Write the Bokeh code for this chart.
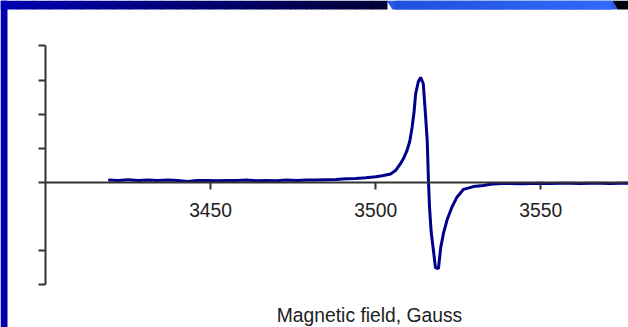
from bokeh.plotting import figure
from bokeh.models import Range1d, LinearAxis, FixedTicker, BoxAnnotation, PolyAnnotation, Label
from bokeh.embed import file_html
from bokeh.resources import INLINE

# ---- data ----
field = [3419, 3422, 3425, 3428, 3431, 3434, 3437, 3440, 3443, 3446, 3449, 3452, 3455,
         3458, 3461, 3464, 3467, 3470, 3473, 3476, 3479, 3482, 3485, 3488, 3491, 3494,
         3497, 3500, 3502, 3504.5, 3506, 3507.5, 3508.5, 3509.5, 3510.3, 3511.0, 3511.6,
         3512.1, 3512.9, 3513.6, 3514.4, 3515.0, 3515.6, 3516.0, 3516.3, 3516.8, 3517.5,
         3518.1, 3519.0, 3519.7, 3520.5, 3521.6, 3523.1, 3524.6, 3526.6, 3529.6, 3532.6,
         3534.8, 3538, 3541, 3544, 3547, 3550, 3553, 3556, 3559, 3562, 3565, 3568, 3571,
         3574, 3577]
signal = [0.07, 0.06, 0.08, 0.06, 0.07, 0.06, 0.07, 0.06, 0.03, 0.06, 0.06, 0.05, 0.06,
          0.06, 0.07, 0.05, 0.06, 0.05, 0.07, 0.06, 0.07, 0.07, 0.08, 0.09, 0.11, 0.12,
          0.14, 0.17, 0.20, 0.25, 0.35, 0.55, 0.72, 0.94, 1.2, 1.6, 2.05,
          2.6, 2.95, 3.08, 2.9, 2.1, 1.23, 0.0, -0.72, -1.45, -2.0,
          -2.5, -2.52, -1.9, -1.5, -1.1, -0.72, -0.43, -0.2, -0.12, -0.09,
          -0.05, -0.03, -0.03, -0.04, -0.03, -0.02, -0.03, -0.02, -0.02, -0.03, -0.02,
          -0.02, -0.03, -0.02, -0.02]
x_ticks = [3450, 3500, 3550, 3600]
y_ticks = [-3, -2, 0, 1, 2, 3, 4]
x_bounds = (3400, 3600)
y_bounds = (-3, 4)
x_title = "Magnetic field, Gauss"

W, H = 628, 327
px_per_gauss = 3.302
px_per_unit = 34.14
axis_left_px = 45
zero_py = 182

x0 = x_bounds[0] - axis_left_px / px_per_gauss
x1 = x_bounds[0] + (W - axis_left_px) / px_per_gauss
y_top = zero_py / px_per_unit
y_bot = -(H - zero_py) / px_per_unit

p = figure(width=W, height=H, output_backend="svg", toolbar_location=None,
           x_range=Range1d(x0, x1), y_range=Range1d(y_bot, y_top),
           x_axis_type=None, y_axis_type=None, min_border=0,
           background_fill_color="white", border_fill_color="white",
           outline_line_color=None)
p.styles = {"position": "absolute", "left": "0px", "top": "0px"}
p.grid.visible = False

FONT = "Liberation Sans"
FS = "19.3px"

xa = LinearAxis(fixed_location=0, bounds=x_bounds, ticker=FixedTicker(ticks=x_ticks),
                axis_line_color="#333333", axis_line_width=2,
                major_tick_line_color="#333333", major_tick_line_width=2,
                major_tick_in=0, major_tick_out=7, minor_tick_line_color=None,
                major_label_text_font=FONT, major_label_text_font_size=FS,
                major_label_text_color="#222222", major_label_standoff=13)
p.add_layout(xa, "below")

ya = LinearAxis(fixed_location=x_bounds[0], bounds=y_bounds, ticker=FixedTicker(ticks=y_ticks),
                axis_line_color="#333333", axis_line_width=2,
                major_tick_line_color="#333333", major_tick_line_width=2,
                major_tick_in=0, major_tick_out=7, minor_tick_line_color=None,
                major_label_text_color=None)
p.add_layout(ya, "left")

p.line(field, signal, line_color="#00008a", line_width=3)

p.add_layout(Label(x=369, y=H - 304, x_units="screen", y_units="screen", text=x_title,
                   text_align="center", text_baseline="top",
                   text_font=FONT, text_font_size=FS, text_color="#222222"))

# ---- slide frame (blue bands); screen y is measured from the bottom ----
band_h = 9
left_w = 7
p.add_layout(BoxAnnotation(left=0, right=left_w, left_units="screen", right_units="screen",
                           fill_color="#0000b0", fill_alpha=1, line_color=None, level="overlay"))
n = 24
tab_start, tab_end = 386, 612
for i in range(n):
    a = i * tab_start / n
    b = (i + 1) * tab_start / n + 1
    t = i / (n - 1)
    bl = int(176 - t * 120)
    p.add_layout(BoxAnnotation(left=a, right=b, top=H, bottom=H - band_h,
                               left_units="screen", right_units="screen",
                               top_units="screen", bottom_units="screen",
                               fill_color=f"#0000{bl:02x}", fill_alpha=1,
                               line_color=None, level="overlay"))
p.add_layout(PolyAnnotation(xs=[tab_start, tab_end, tab_end + 5, tab_start + 6],
                            ys=[H, H, H - band_h, H - band_h], xs_units="screen", ys_units="screen",
                            fill_color="#2a5ae6", fill_alpha=1, line_color=None, level="overlay"))
m = 16
for i in range(m):
    a = tab_start + 8 + i * (tab_end - tab_start - 10) / m
    b = tab_start + 8 + (i + 1) * (tab_end - tab_start - 10) / m + 1
    t = i / (m - 1)
    r, g, bl = int(32 + t * 16), int(82 + t * 24), int(220 + t * 30)
    p.add_layout(BoxAnnotation(left=a, right=b, top=H, bottom=H - band_h,
                               left_units="screen", right_units="screen",
                               top_units="screen", bottom_units="screen",
                               fill_color=f"#{r:02x}{g:02x}{bl:02x}", fill_alpha=1,
                               line_color=None, level="overlay"))
p.add_layout(PolyAnnotation(xs=[tab_end, W, W, tab_end + 5],
                            ys=[H, H, H - band_h, H - band_h], xs_units="screen", ys_units="screen",
                            fill_color="#000010", fill_alpha=1, line_color=None, level="overlay"))

open("out.html", "w").write(file_html(p, INLINE))
